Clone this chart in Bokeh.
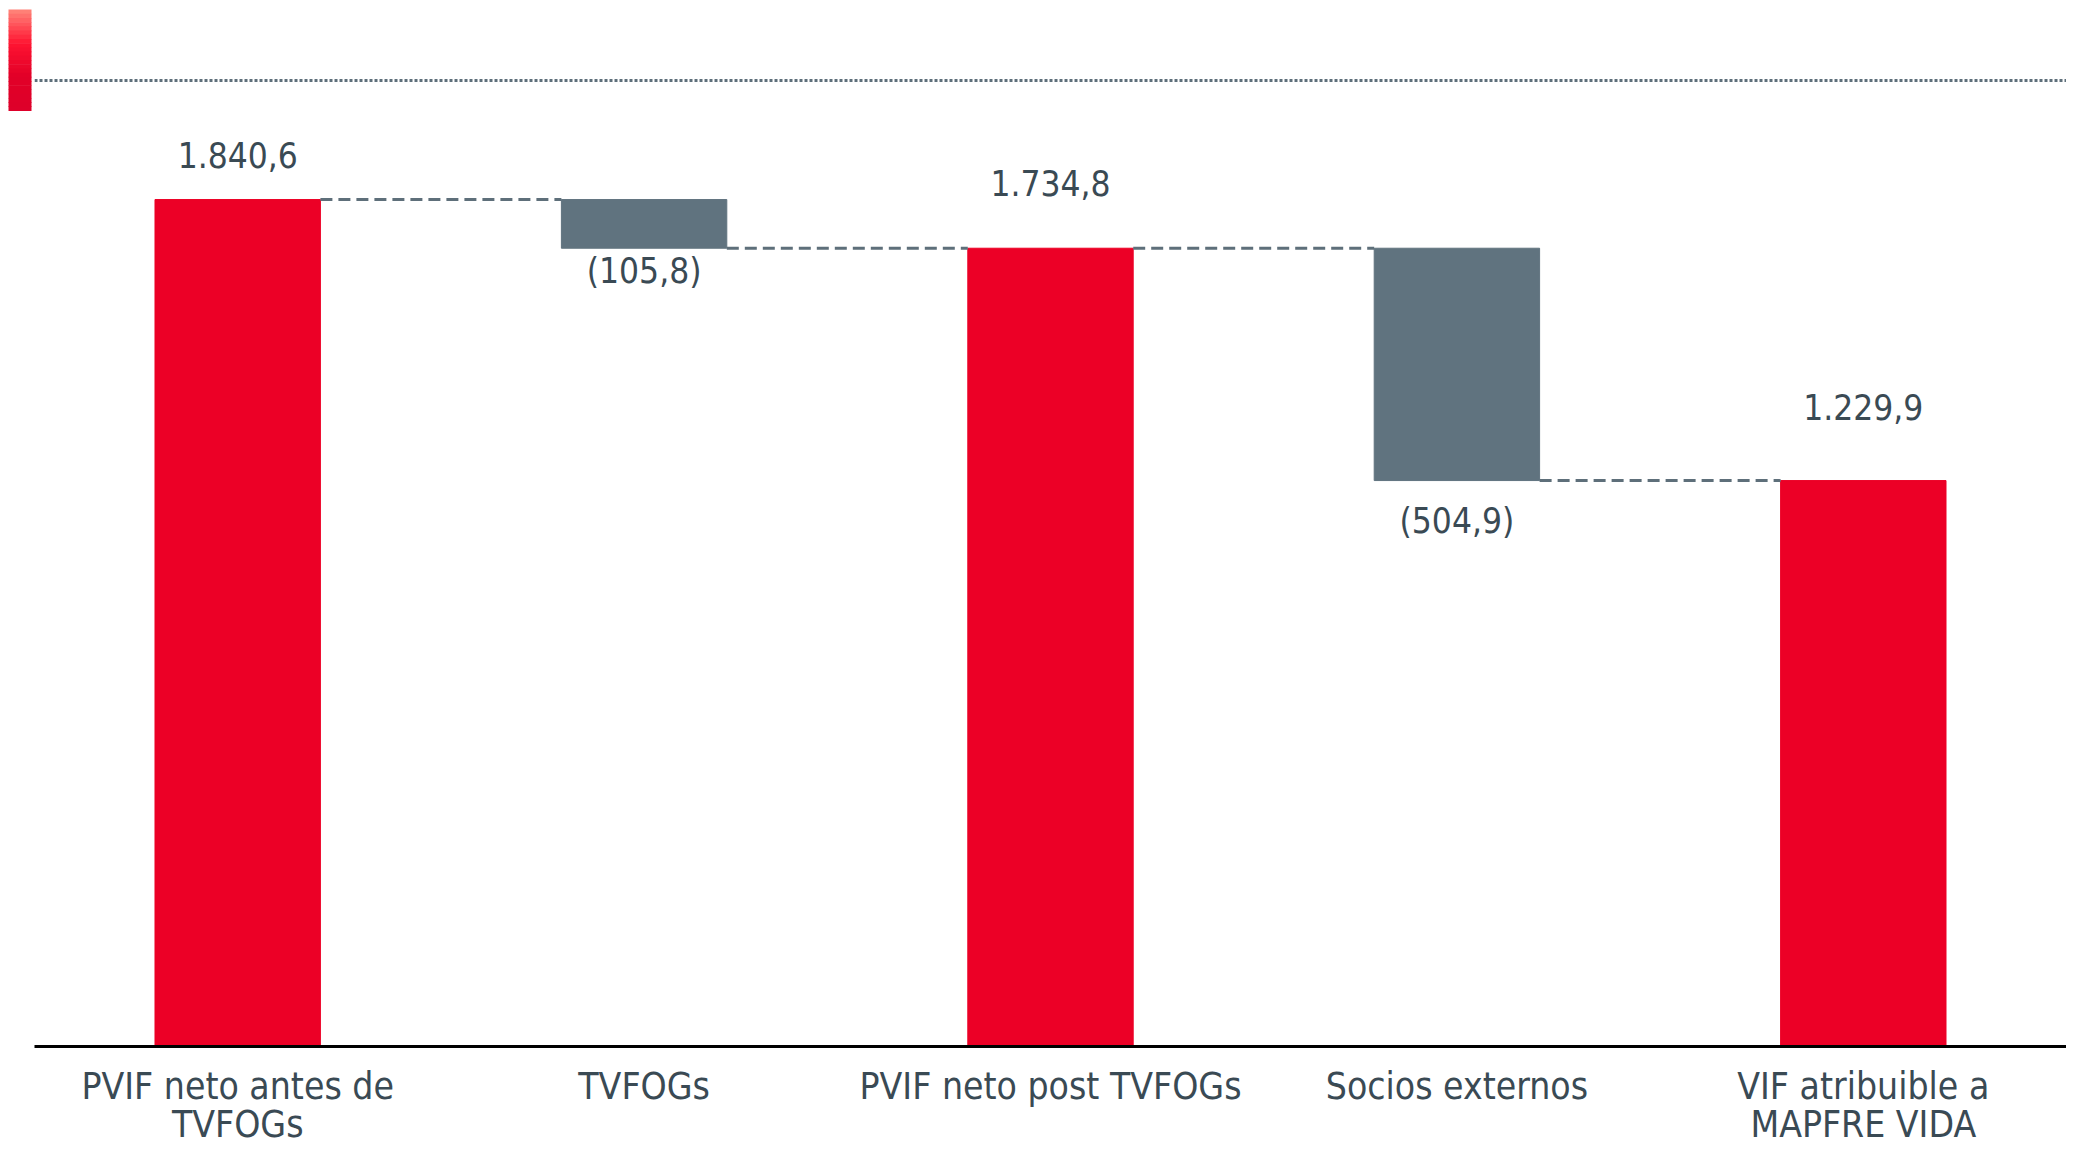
from bokeh.plotting import figure
from bokeh.layouts import row
from bokeh.models import FactorRange, Range1d, BoxAnnotation, Span, ColumnDataSource
from bokeh.core.properties import value
from bokeh.embed import file_html
from bokeh.resources import INLINE

# ---- data ----
categories = ["PVIF neto antes de\nTVFOGs", "TVFOGs", "PVIF neto post TVFOGs",
              "Socios externos", "VIF atribuible a\nMAPFRE VIDA"]
amounts = [1840.6, -105.8, 1734.8, -504.9, 1229.9]
kinds = ["total", "delta", "total", "delta", "total"]
value_labels = ["1.840,6", "(105,8)", "1.734,8", "(504,9)", "1.229,9"]

# ---- style ----
RED = "#EC0026"
GRAY = "#60737F"
TEXT = "#3A4A54"
LINE = "#5E6F7A"
FONT = "DejaVu Sans Condensed, Liberation Sans Narrow, sans-serif"
label_dy = [45, 23, 65, 40, 74]   # pixel distance of value label centre from bar edge
BAR_W = 0.407
H = 1149
DECO_W = 34
MAIN_W = 2066 - DECO_W

# ---- waterfall geometry from data ----
bottoms, tops, colors, anchor, offs = [], [], [], [], []
running = 0.0
for a, k, dy in zip(amounts, kinds, label_dy):
    if k == "total":
        b, t = 0.0, a
        running = a
        colors.append(RED)
        anchor.append(t)
        offs.append(-dy)
    else:
        b, t = running + a, running
        running = running + a
        colors.append(GRAY)
        anchor.append(b)
        offs.append(dy)
    bottoms.append(b)
    tops.append(t)

src = ColumnDataSource(dict(cat=categories, bottom=bottoms, top=tops, color=colors,
                            anchor=anchor, off=offs, lab=value_labels))

y_end = max(amounts) * 1.235
p = figure(x_range=FactorRange(*categories), y_range=Range1d(0, y_end),
           width=MAIN_W, height=H, output_backend="svg", toolbar_location=None,
           y_axis_location=None, min_border_left=0, min_border_right=0,
           min_border_top=0, min_border_bottom=90)
p.outline_line_color = None
p.xgrid.grid_line_color = None
p.ygrid.grid_line_color = None

p.vbar(x="cat", bottom="bottom", top="top", width=BAR_W, color="color", source=src)

# connectors (running level between consecutive bars)
x0s, x1s, ys = [], [], []
level = 0.0
for i, (a, k) in enumerate(zip(amounts, kinds)):
    level = a if k == "total" else level + a
    if i < len(amounts) - 1:
        x0s.append(i + 0.5 + BAR_W / 2)
        x1s.append(i + 1.5 - BAR_W / 2)
        ys.append(level)
p.segment(x0=x0s, y0=ys, x1=x1s, y1=ys, line_color=LINE, line_width=3, line_dash="12 6")

p.text(x="cat", y="anchor", text="lab", y_offset="off", source=src,
       text_font=value(FONT), text_font_size="35px", text_color=TEXT,
       text_align="center", text_baseline="middle")

ax = p.xaxis[0]
ax.axis_line_color = "black"
ax.axis_line_width = 3
ax.major_tick_line_color = None
ax.minor_tick_line_color = None
ax.major_label_text_font = FONT
ax.major_label_text_font_size = "37px"
ax.major_label_text_color = TEXT
ax.major_label_text_line_height = 0.9
ax.major_label_standoff = 12

# dotted rule at the top
p.add_layout(Span(location=80, location_units="canvas", dimension="width",
                  line_color=LINE, line_alpha=1, line_width=3, line_dash="3 2"))

# decorative gradient marker in its own narrow figure
d = figure(width=DECO_W, height=H, output_backend="svg", toolbar_location=None,
           x_range=Range1d(0, DECO_W), y_range=Range1d(0, H),
           x_axis_location=None, y_axis_location=None,
           min_border_left=0, min_border_right=0, min_border_top=0, min_border_bottom=0)
d.outline_line_color = None
d.xgrid.grid_line_color = None
d.ygrid.grid_line_color = None
stops = [(255, 128, 118), (255, 20, 50), (226, 0, 40), (222, 0, 42)]
nb = 24
top_px, bot_px = 9, 110
for j in range(nb):
    f = j / (nb - 1) * (len(stops) - 1)
    s = min(int(f), len(stops) - 2)
    t = f - s
    c = tuple(int(stops[s][m] + (stops[s + 1][m] - stops[s][m]) * t) for m in range(3))
    y0 = top_px + (bot_px - top_px) * j / nb
    y1 = top_px + (bot_px - top_px) * (j + 1) / nb
    d.add_layout(BoxAnnotation(left=8, right=31, top=y0, bottom=y1 + 0.6,
                               left_units="canvas", right_units="canvas",
                               top_units="canvas", bottom_units="canvas",
                               fill_color="#%02x%02x%02x" % c, fill_alpha=1,
                               line_color=None, level="overlay"))

layout = row(d, p, spacing=0)
open("out.html", "w").write(file_html(layout, INLINE))
